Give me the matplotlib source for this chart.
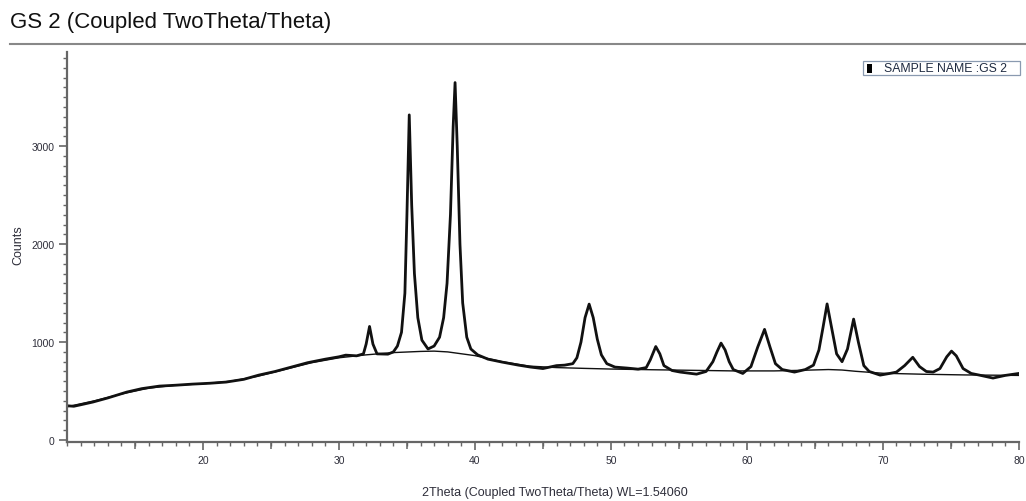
import numpy as np
import matplotlib
matplotlib.use('Agg')
from matplotlib import pyplot as plt
from matplotlib.ticker import MultipleLocator
from matplotlib.patches import Rectangle
from matplotlib.lines import TICKDOWN

plt.rcParams['font.family'] = ['Liberation Sans', 'DejaVu Sans']

two_theta = [10.0, 10.5, 11.0, 11.9, 13.0, 14.4, 15.5, 16.8, 18.0, 19.2, 20.5, 21.7,
             23.0, 24.1, 25.3, 26.5, 27.7, 29.0, 30.0, 30.5, 31.3, 31.8, 32.0, 32.25,
             32.5, 32.8, 33.6, 34.0, 34.3, 34.6, 34.85, 35.0, 35.17, 35.35, 35.55, 35.8,
             36.1, 36.55, 37.0, 37.4, 37.7, 37.95, 38.2, 38.4, 38.54, 38.7, 38.9, 39.1,
             39.4, 39.7, 40.2, 40.96, 42.0, 43.2, 44.1, 45.0, 46.0, 46.6, 47.2, 47.5,
             47.8, 48.1, 48.4, 48.7, 49.0, 49.3, 49.7, 50.3, 51.2, 52.0, 52.6, 52.9,
             53.3, 53.6, 53.9, 54.5, 55.1, 56.3, 57.0, 57.5, 57.8, 58.1, 58.4, 58.7,
             59.0, 59.7, 60.3, 60.8, 61.3, 61.7, 62.1, 62.6, 63.5, 64.3, 64.9, 65.3,
             65.6, 65.9, 66.2, 66.6, 67.0, 67.4, 67.85, 68.2, 68.6, 69.0, 69.8, 70.5,
             71.0, 71.6, 72.2, 72.7, 73.2, 73.7, 74.2, 74.7, 75.05, 75.4, 75.9, 76.5,
             77.1, 78.1, 79.0, 80.0]
counts = [350, 345, 360, 388, 430, 490, 525, 551, 560, 571, 580, 592,
          620, 663, 700, 745, 790, 826, 850, 867, 860, 880, 980, 1160,
          980, 880, 877, 900, 960, 1100, 1500, 2300, 3320, 2400, 1700, 1250,
          1020, 930, 960, 1050, 1250, 1600, 2300, 3200, 3650, 3000, 2000, 1400,
          1050, 930, 870, 826, 796, 765, 745, 730, 760, 765, 780, 840,
          1000, 1250, 1388, 1250, 1030, 870, 780, 745, 735, 724, 740, 820,
          955, 880, 760, 710, 694, 673, 700, 800, 900, 990, 920, 800,
          720, 680, 750, 950, 1130, 950, 780, 720, 694, 720, 765, 920,
          1150, 1390, 1170, 880, 800, 930, 1235, 1000, 760, 700, 663, 680,
          694, 760, 845, 750, 700, 694, 730, 850, 908, 860, 730, 680,
          663, 633, 660, 680]

###Background curve
bg_theta = [10, 12, 14, 16, 18, 20, 22, 24, 26, 28, 30, 32, 34, 36, 37, 38, 40, 42,
            44, 46, 48, 50, 53, 56, 59, 62, 64, 66, 67, 68, 70, 73, 76, 80]
bg_counts = [340, 400, 470, 530, 560, 575, 600, 650, 720, 790, 840, 870, 893, 905,
             908, 900, 862, 800, 755, 740, 732, 725, 718, 712, 706, 706, 712, 720,
             715, 702, 682, 672, 665, 660]

title = "GS 2 (Coupled TwoTheta/Theta)"
legend_text = "SAMPLE NAME :GS 2"
xlabel = "2Theta (Coupled TwoTheta/Theta) WL=1.54060"
half_ticks = [15, 25, 35, 45, 55, 65, 75]

tick_col = '#2e2e3a'
spine_col = '#666666'

fig = plt.figure(figsize=(10.26, 5.02), dpi=100)
ax = fig.add_axes([0.0653, 0.1175, 0.9277, 0.7765])
ax.plot(bg_theta, bg_counts, color='#111111', linewidth=1.0)
ax.plot(two_theta, counts, color='#111111', linewidth=2.0)

ax.set_xlim(10, 80)
ax.set_ylim(-20, 3960)
for s in ['top', 'right']:
    ax.spines[s].set_visible(False)
for s in ['left', 'bottom']:
    ax.spines[s].set_color(spine_col)
    ax.spines[s].set_linewidth(1.6)

ax.xaxis.set_major_locator(MultipleLocator(10))
ax.xaxis.set_minor_locator(MultipleLocator(1))
ax.yaxis.set_major_locator(MultipleLocator(1000))
ax.yaxis.set_minor_locator(MultipleLocator(100))
ax.tick_params(axis='both', which='major', direction='out', length=6, width=1.2,
               color=spine_col, labelsize=7.5, labelcolor=tick_col, pad=3)
ax.tick_params(axis='both', which='minor', direction='out', length=3, width=1.0,
               color=spine_col)
ax.set_xticks([20, 30, 40, 50, 60, 70, 80])
ax.set_yticks([0, 1000, 2000, 3000])
# medium ticks at the half decades
ax.plot(half_ticks, [0] * len(half_ticks), linestyle='none', marker=TICKDOWN,
        markersize=5, markeredgewidth=1.1, color=spine_col,
        transform=ax.get_xaxis_transform(), clip_on=False)

###Axis titles
fig.text(0.541, 0.018, xlabel, fontsize=9, ha='center', va='center', color=tick_col)
fig.text(0.0175, 0.512, "Counts", fontsize=9, ha='center', va='center',
         rotation=90, color=tick_col)

###Title and rule under it
fig.text(0.0097, 0.956, title, fontsize=16, ha='left', va='center', color='#111111')
fig.add_artist(plt.Line2D([0.0097, 1.0], [0.911, 0.911], color='#888888', linewidth=1.5))

###Sample legend box
fig.add_artist(Rectangle((0.841, 0.848), 0.153, 0.028, facecolor='white',
                         edgecolor='#8a9ab0', linewidth=0.9))
fig.add_artist(Rectangle((0.8455, 0.853), 0.0045, 0.018, facecolor='black',
                         edgecolor='none'))
fig.text(0.862, 0.863, legend_text, fontsize=8.8, ha='left', va='center', color='#1e2a40')

plt.savefig('out.png', dpi=100)
